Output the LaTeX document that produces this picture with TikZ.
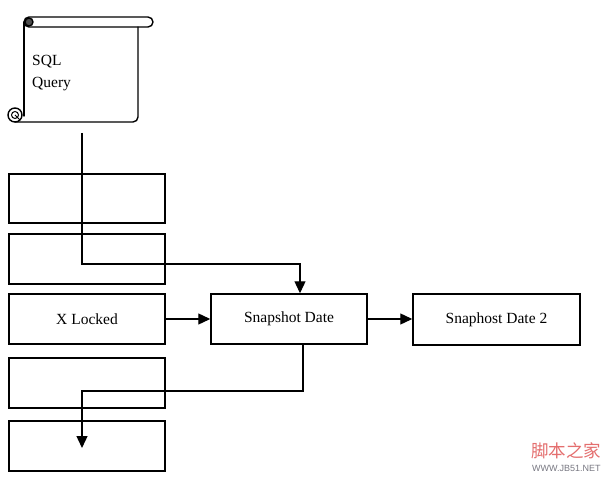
\documentclass[tikz,border=0pt]{standalone}
\usepackage{fontspec}
\setmainfont{Liberation Serif}
\newfontfamily\cjkfont{Noto Sans CJK SC}
\newfontfamily\wmfont{Liberation Sans}
\usetikzlibrary{arrows.meta}
\definecolor{wmred}{RGB}{228,110,110}
\definecolor{wmgrey}{RGB}{120,120,130}
\begin{document}
\begin{tikzpicture}[x=1pt,y=-1pt,
  box/.style={draw,line width=1.5pt,minimum width=156pt,minimum height=50pt,inner sep=0pt,
              font=\fontsize{15.5}{18}\selectfont},
  conn/.style={line width=1.3pt},
  arr/.style={conn,-{Triangle[length=12pt,width=11pt]}},
  scrollline/.style={line width=1.4pt,line join=round,line cap=round}]
\useasboundingbox[fill=white] (0,0) rectangle (615,478);

% scroll (SQL Query)
\node[minimum width=130pt,minimum height=100pt,inner sep=0pt] (sql) at (82,70) {};
\draw[scrollline,rounded corners=5pt] (24,17) rectangle (153,27);
\draw[scrollline] (24,22) -- (24,116);
\draw[scrollline] (138,27) -- (138,117) arc[start angle=0,end angle=90,radius=5] -- (15,122);
\draw[scrollline,fill=black!70] (29,22) circle[radius=4];
\draw[scrollline] (15,115) circle[radius=7];
\draw[line width=1pt] (15,115) circle[radius=3.5];
\draw[line width=1pt] (15,115) -- (20,120);
\node[anchor=west,font=\fontsize{15.5}{18}\selectfont,align=left,inner sep=0pt] (sqltext) at (32,73)
  {SQL\\[4pt]Query};

% left column
\node[box,minimum height=49pt] (b1) at (87,198.5) {};
\node[box] (b2) at (87,259) {};
\node[box] (xl) at (87,319) {X Locked};
\node[box] (b4) at (87,383) {};
\node[box] (b5) at (87,446) {};

% snapshot boxes
\node[box] (sd) at (289,319) {Snapshot Date};
\node[box,minimum width=167pt,minimum height=51pt] (sd2) at (496.5,319.5) {Snaphost Date 2};

% connectors
\coordinate (q) at (82,133);
\coordinate (t1) at (300,264);
\draw[arr] (q) |- (t1) -- (t1 |- sd.north);
\draw[arr] (xl.east) -- (sd.west);
\draw[arr] (sd.east) -- (sd.east -| sd2.west);
\coordinate (c1) at (303,391);
\coordinate (e2) at (82,448);
\draw[arr] (c1 |- sd.south) -- (c1) -| (e2);

% watermark
\node[anchor=west,inner sep=0pt,text=wmred,font=\cjkfont\fontsize{17.5}{18}\selectfont] (wm1) at (531,450.5) {脚本之家};
\node[anchor=west,inner sep=0pt,text=wmgrey,font=\wmfont\fontsize{9}{10}\selectfont] (wm2) at (532,468) {WWW.JB51.NET};
\end{tikzpicture}
\end{document}
